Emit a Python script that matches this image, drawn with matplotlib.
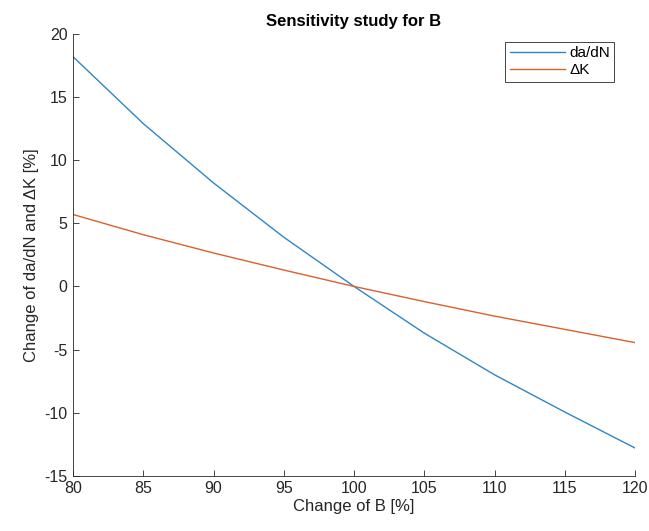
import numpy as np
import matplotlib
matplotlib.use('Agg')
import matplotlib.pyplot as plt

plt.rcParams['font.family'] = ['Liberation Sans', 'DejaVu Sans']
plt.rcParams['axes.unicode_minus'] = False

# change of B [%]
change_B = [80, 85, 90, 95, 100, 105, 110, 115, 120]
# change of da/dN [%]
dadN = [18.2, 12.9, 8.2, 3.9, 0.0, -3.7, -7.0, -9.95, -12.8]
# change of Delta K [%]
dK = [5.7, 4.1, 2.65, 1.3, 0.0, -1.2, -2.35, -3.4, -4.45]

xticks = [80, 85, 90, 95, 100, 105, 110, 115, 120]
yticks = [-15, -10, -5, 0, 5, 10, 15, 20]

fig = plt.figure(figsize=(6.49, 5.31), dpi=100)
ax = fig.add_axes([0.1125, 0.104, 0.866, 0.832])

ax.plot(change_B, dadN, color='#2f86c4', lw=1.0, label='da/dN')
ax.plot(change_B, dK, color='#d9612b', lw=1.0, label='ΔK')

ax.set_xlim(80, 120)
ax.set_ylim(-15, 20)
ax.set_xticks(xticks)
ax.set_yticks(yticks)
ax.tick_params(direction='in', length=4, width=0.6, colors='#262626', labelsize=11.5, pad=4)
for s in ['top', 'right']:
    ax.spines[s].set_visible(False)
for s in ['left', 'bottom']:
    ax.spines[s].set_color('#262626')
    ax.spines[s].set_linewidth(0.6)

ax.set_xlabel('Change of B [%]', fontsize=12, color='#262626', labelpad=2)
ax.set_ylabel('Change of da/dN and ΔK [%]', fontsize=12, color='#262626', labelpad=4)
ax.set_title('Sensitivity study for B', fontsize=12, fontweight='bold', pad=6)

leg = ax.legend(loc='upper right', bbox_to_anchor=(0.977, 1.0), fontsize=11,
                fancybox=False, framealpha=1, edgecolor='#262626',
                handlelength=3.6, handletextpad=0.3, borderpad=0.3, labelspacing=0.2)
leg.get_frame().set_linewidth(0.6)

fig.savefig('out.png', dpi=100)
